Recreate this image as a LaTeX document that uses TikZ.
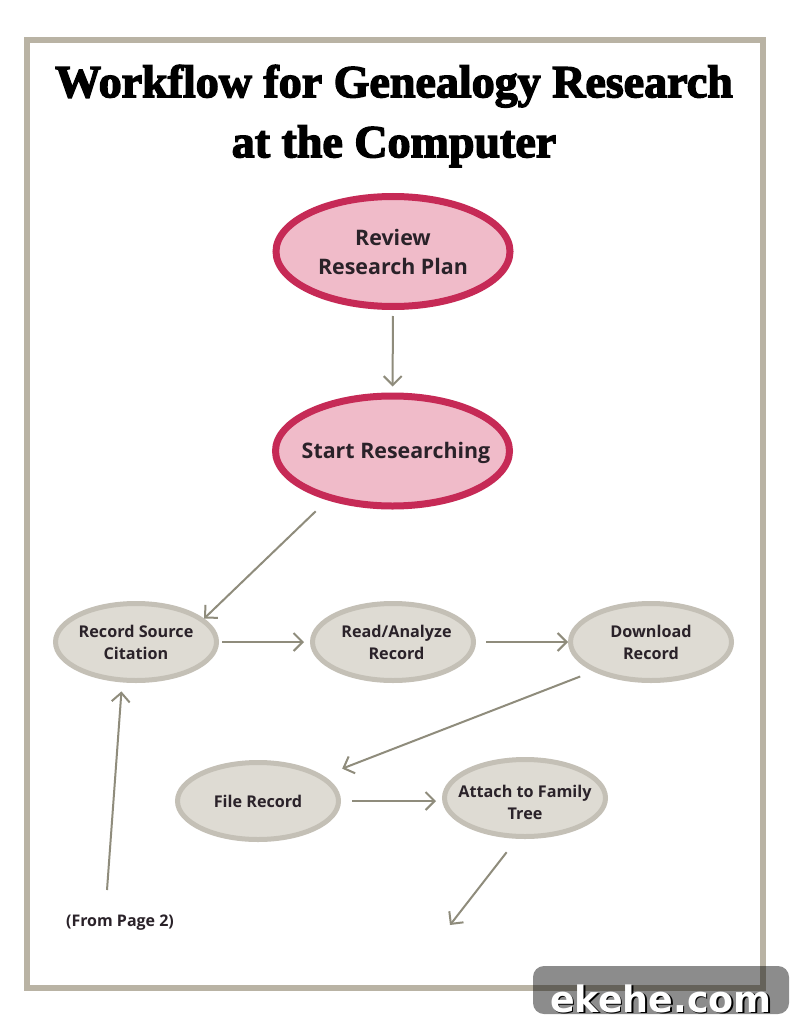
\documentclass[tikz,border=0pt]{standalone}
\usepackage{fontspec}
\setmainfont{Open Sans}
\newfontfamily\titlefont[BoldFeatures={FakeBold=3}]{Liberation Serif}
\newfontfamily\markfont{DejaVu Sans}
\usetikzlibrary{arrows.meta,shapes.geometric}
\definecolor{frame}{HTML}{B9B3A4}
\definecolor{rose}{HTML}{F0BBC9}
\definecolor{crimson}{HTML}{C62A56}
\definecolor{stone}{HTML}{DEDBD3}
\definecolor{stoneline}{HTML}{C4C0B6}
\definecolor{flowline}{HTML}{8F8C7C}
\definecolor{ink}{HTML}{2A2229}
\tikzset{
  mainstep/.style={ellipse, draw=crimson, fill=rose, line width=7pt, minimum width=234pt, minimum height=110pt, inner sep=-30pt, align=center, text=ink, font=\bfseries\fontsize{21.4}{29}\selectfont},
  substep/.style={ellipse, draw=stoneline, fill=stone, line width=5pt, minimum width=161pt, minimum height=77pt, inner sep=-30pt, align=center, text=ink, font=\bfseries\fontsize{16.2}{22}\selectfont},
  flow/.style={draw=flowline, line width=2pt, -{Straight Barb[length=9pt,width=18pt,line width=2pt]}}
}

\begin{document}
\begin{tikzpicture}[x=1pt, y=-1pt]

  \useasboundingbox (0, 0) rectangle (791, 1024);
  \fill[white] (0, 0) rectangle (791, 1024);
  \draw[frame, line width=6pt] (27, 40) rectangle (763, 988);

  \node[font=\titlefont\bfseries\fontsize{46}{60}\selectfont, align=center] (title) at (394, 116) {Workflow for Genealogy Research\\at the Computer};

  \node[mainstep] (review) at (393, 251.5) {Review\\Research Plan};
  \node[mainstep] (start) at (392.5, 451) {\raisebox{-7pt}[0pt][0pt]{\hspace*{7pt}Start Researching}};
  \node[substep] (record) at (136, 642) {Record Source\\Citation};
  \node[substep] (read) at (393, 642) {\hspace*{7pt}Read/Analyze\\\hspace*{7pt}Record};
  \node[substep] (download) at (651, 642) {Download\\Record};
  \node[substep] (file) at (258, 801) {File Record};
  \node[substep] (attach) at (525, 798) {\raisebox{-6pt}[14pt][5pt]{Attach to Family}\\\raisebox{-6pt}[14pt][5pt]{Tree}};
  \node[font=\bfseries\fontsize{16}{18}\selectfont, text=ink] (from) at (120, 923) {(From Page 2)};

  \coordinate (fromtop) at (107, 890);
  \coordinate (next) at (450, 925);

  \draw[flow, shorten <=6pt, shorten >=6pt] (review) -- (start);
  \draw[flow, shorten <=16pt, shorten >=0pt] (start.217) -- (record.19);
  \draw[flow, shorten <=3pt, shorten >=6pt] (record.0) -- (read.180);
  \draw[flow, shorten <=10pt] (read.0) -- (download.180);
  \draw[flow, shorten <=14pt, shorten >=20pt] (download.207) -- (file.21);
  \draw[flow, shorten <=11pt, shorten >=6pt] (file.0) -- (file.0 -| attach.180);
  \draw[flow, shorten <=17pt] (attach.259) -- (next);
  \draw[flow, shorten >=9pt] (fromtop) -- (record.251);

  \fill[black, opacity=0.45, rounded corners=11pt] (533, 966) rectangle (789, 1014);
  \node[font=\markfont\bfseries\fontsize{36.4}{40}\selectfont, text=black] (markshadow) at (662.5, 1000) {ekehe.com};
  \node[font=\markfont\bfseries\fontsize{36.4}{40}\selectfont, text=white] (mark) at (661, 998.5) {ekehe.com};

\end{tikzpicture}
\end{document}
